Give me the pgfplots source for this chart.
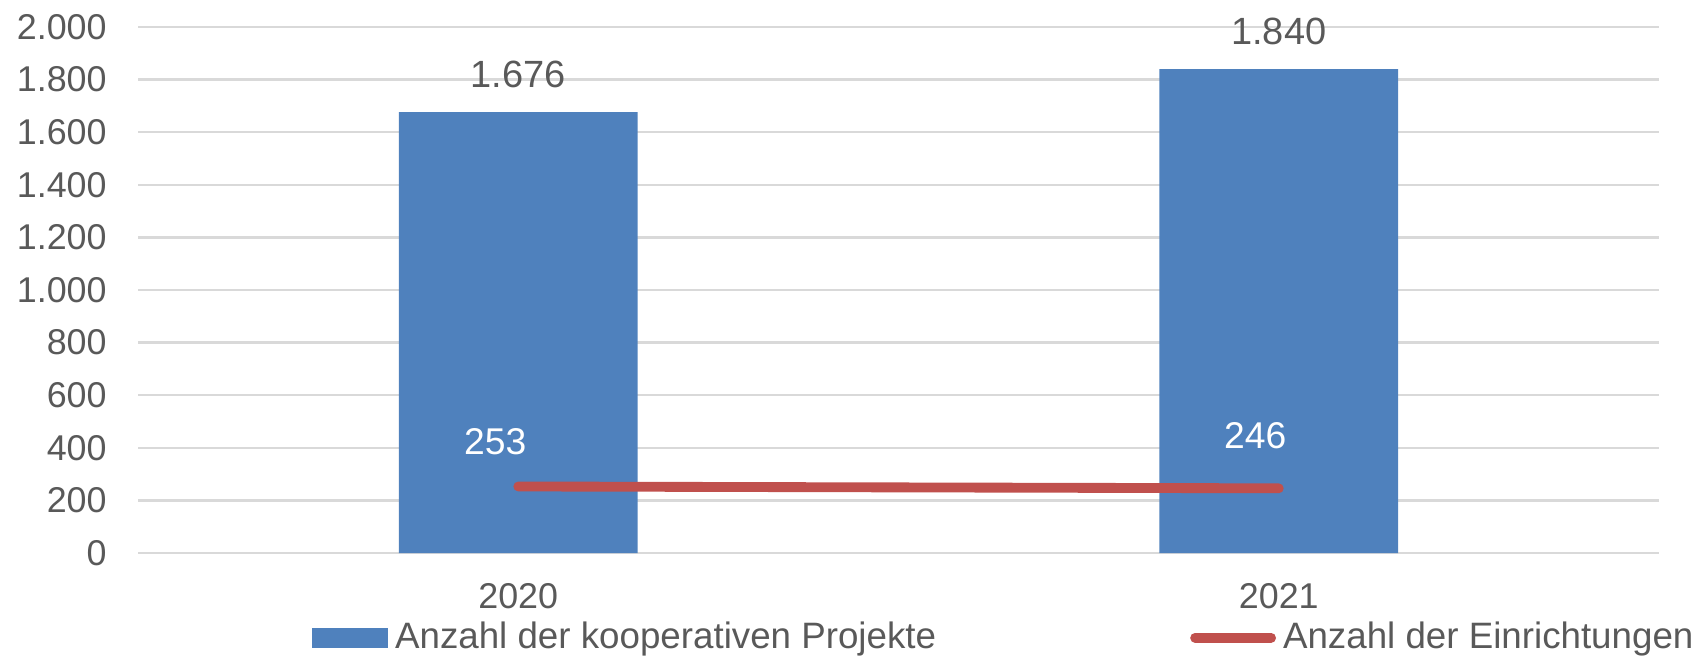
\documentclass[border=0pt]{standalone}
\usepackage{fontspec}
\setmainfont{Liberation Sans}
\usepackage{pgfplots}
\pgfplotsset{compat=1.18}
\definecolor{barblue}{HTML}{4F81BD}
\definecolor{linered}{HTML}{C0504D}
\definecolor{txtgray}{HTML}{595959}
\definecolor{gridgray}{HTML}{D9D9D9}
\begin{document}
\begin{tikzpicture}
\useasboundingbox (0,0) rectangle (17.01cm,6.63cm);
\begin{axis}[
  at={(1.38cm,1.10cm)}, anchor=south west,
  width=15.21cm, height=5.26cm, scale only axis,
  xmin=-0.5, xmax=1.5, ymin=0, ymax=2000,
  xtick={0,1}, xticklabels={2020,2021},
  ytick={0,200,...,2000},
  ymajorgrids, grid style={gridgray, line width=0.7pt},
  axis line style={draw=none}, tick style={draw=none},
  /pgf/number format/.cd, 1000 sep={.}, assume math mode=true, /pgfplots/.cd,
  yticklabel style={font=\fontsize{10.2}{12}\selectfont, text=txtgray, xshift=-0.19cm},
  xticklabel style={font=\fontsize{10.2}{12}\selectfont, text=txtgray, yshift=-0.18cm},
  legend style={at={(0.114,-0.161)}, anchor=west, draw=none, fill=none, inner sep=0pt,
    font=\fontsize{10.45}{12}\selectfont, text=txtgray,
    /tikz/every even column/.append style={column sep=2.47cm}},
  legend columns=2,
  clip=false,
]
\addplot[ybar, bar width=0.314, fill=barblue, draw=none,
  legend image code/.code={\fill[barblue] (0cm,-0.1cm) rectangle (0.76cm,0.1cm);}]
  coordinates {(0,1676) (1,1840)};
\addlegendentry{Anzahl der kooperativen Projekte}
\addplot[linered, line width=2.8pt, line cap=round,
  legend image code/.code={\draw[linered, line width=2.8pt, line cap=round] (0.05cm,0cm) -- (0.81cm,0cm);}]
  coordinates {(0,253) (1,246)};
\addlegendentry{Anzahl der Einrichtungen}
\node[text=txtgray, font=\fontsize{10.8}{12}\selectfont] at (axis cs:0,1676) [yshift=0.38cm] {1.676};
\node[text=txtgray, font=\fontsize{10.8}{12}\selectfont] at (axis cs:1,1840) [yshift=0.38cm] {1.840};
\node[text=white, font=\fontsize{10.6}{12}\selectfont] at (axis cs:0,253) [xshift=-0.23cm, yshift=0.45cm] {253};
\node[text=white, font=\fontsize{10.6}{12}\selectfont] at (axis cs:1,246) [xshift=-0.235cm, yshift=0.53cm] {246};
\end{axis}
\end{tikzpicture}
\end{document}
